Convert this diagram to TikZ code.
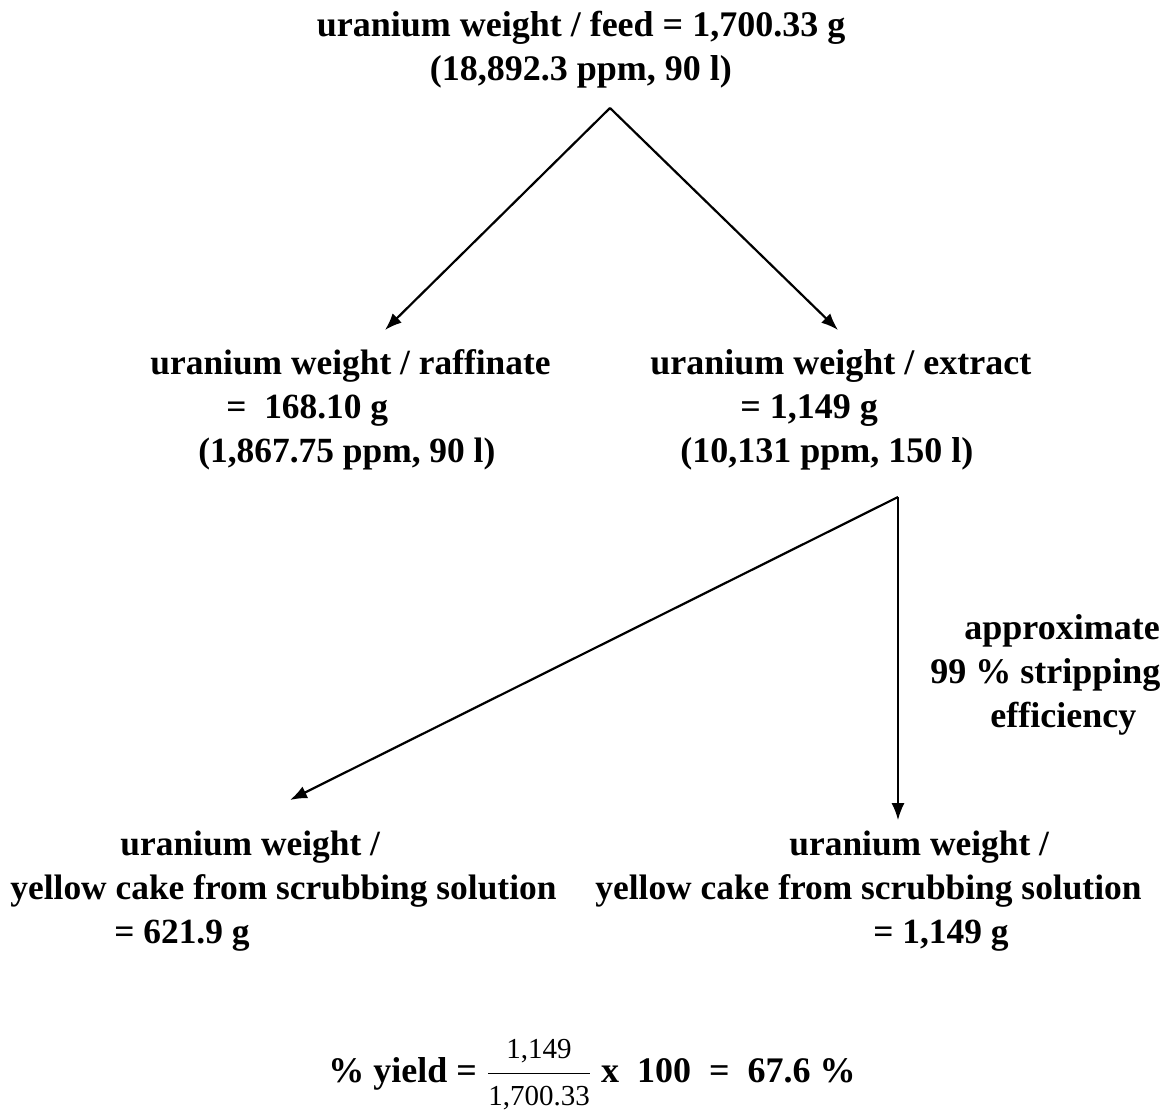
\documentclass[tikz,border=0pt]{standalone}
\usepackage{fontspec}
\usepackage{amsmath}
\setmainfont{Liberation Serif}
\usetikzlibrary{arrows.meta}
\begin{document}
\begin{tikzpicture}
				[
				x=0.5pt, y=-0.5pt, >={Latex[length=8.5pt,width=6.5pt]},
				%Voreinstellung für Texte
				txt/.style={inner sep=0pt, font=\bfseries\fontsize{18}{22}\selectfont},
				txtb/.style={inner sep=0pt, font=\bfseries\fontsize{17.7}{22}\selectfont},
				arr/.style={->, line width=1.1pt}
				]

				%Rahmen
				\useasboundingbox (0,0) rectangle (1173,1119);

				%Feed
				\node[txt, align=center] (feed) at (581,50) {uranium weight / feed = 1,700.33 g\\(18,892.3 ppm, 90 l)};

				%Raffinat
				\node[txtb, align=left, anchor=west] (raff) at (150,410) {uranium weight / raffinate\\\hspace*{38pt}= \ 168.10 g\\\hspace*{24pt}(1,867.75 ppm, 90 l)};

				%Extrakt
				\node[txt, align=left, anchor=west] (extr) at (650,410) {uranium weight / extract\\\hspace*{45pt}= 1,149 g\\\hspace*{15pt}(10,131 ppm, 150 l)};

				%Yellow cake links
				\node[txtb, align=left, anchor=west] (cakeA) at (10,891) {\hspace*{55pt}uranium weight /\\yellow cake from scrubbing solution\\\hspace*{52pt}= 621.9 g};

				%Yellow cake rechts
				\node[txtb, align=left, anchor=west] (cakeB) at (595,891) {\hspace*{97pt}uranium weight /\\yellow cake from scrubbing solution\\\hspace*{139pt}= 1,149 g};

				%Strippen
				\node[txt, align=left, anchor=west] (strip) at (930,675) {\hspace*{17pt}approximate\\99 \% stripping\\\hspace*{30pt}efficiency};

				%Ausbeute
				\node[txt] (yield) at (592,1075) {\% yield = $\dfrac{\textmd{\fontsize{14.5}{16}\selectfont 1,149}}{\textmd{\fontsize{14.5}{16}\selectfont 1,700.33}}$ x \ 100 \ = \ 67.6 \%};

				%Verzweigungen
				\coordinate (fork1) at (610,108);
				\coordinate (fork2) at (898,497);
				\coordinate (tipR) at (838,330);
				\coordinate (tipL) at (385,330);
				\coordinate (tipA) at (290,800);
				\coordinate (tipB) at (898,820);

				\draw[arr] (fork1) -- (tipL);
				\draw[arr] (fork1) -- (tipR);
				\draw[arr] (fork2) -- (tipA);
				\draw[arr, line width=0.7pt] (fork2) -- (tipB);
			\end{tikzpicture}
\end{document}
